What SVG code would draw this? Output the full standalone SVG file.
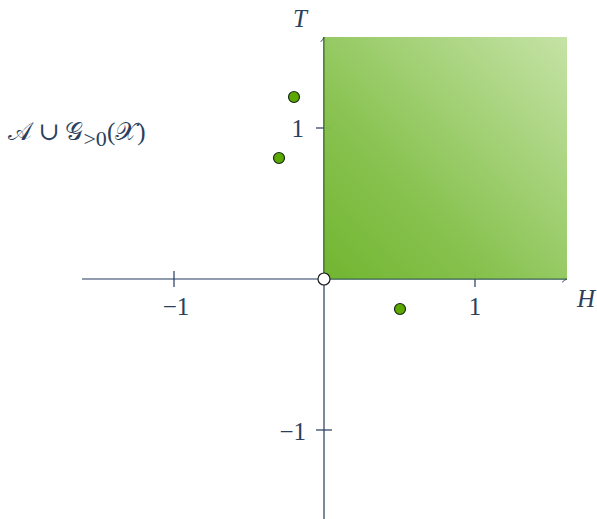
<svg xmlns="http://www.w3.org/2000/svg" width="597" height="519" viewBox="0 0 597 519">
<defs>
<linearGradient id="g" x1="0" y1="1" x2="1" y2="0">
<stop offset="0" stop-color="#6db32a"/>
<stop offset="0.35" stop-color="#84c04a"/>
<stop offset="1" stop-color="#c3e2a3"/>
</linearGradient>
<marker id="ar" viewBox="0 0 10 10" refX="8" refY="5" markerWidth="8" markerHeight="8" markerUnits="userSpaceOnUse" orient="auto">
<path d="M2,1 Q5,4 8,5 Q5,6 2,9" fill="none" stroke="#243a5e" stroke-width="1.2"/>
</marker>
<style>
.ax{stroke:#243a5e;stroke-width:1.2;fill:none}
.t{font-family:"Liberation Serif","DejaVu Serif",serif;fill:#2b3f5c;font-size:25px}
.i{font-style:italic}
.pt{fill:#5aa800;stroke:#1a2a1a;stroke-width:1.2}
</style>
</defs>
<g id="connectors">
<line class="ax" x1="82" y1="279" x2="567" y2="279" marker-end="url(#ar)"/>
<line class="ax" x1="324" y1="519" x2="324" y2="37" marker-end="url(#ar)"/>
<line class="ax" x1="174" y1="271" x2="174" y2="287"/>
<line class="ax" x1="475" y1="271" x2="475" y2="287"/>
<line class="ax" x1="316" y1="128" x2="332" y2="128"/>
<line class="ax" x1="316" y1="430" x2="332" y2="430"/>
</g>
<g id="region">
<rect x="324" y="37" width="243" height="242" fill="url(#g)" opacity="0.97"/>
<line x1="324" y1="37" x2="324" y2="279" stroke="#3f6a30" stroke-width="1"/>
<line x1="324" y1="279" x2="567" y2="279" stroke="#3f6a50" stroke-width="1"/>
</g>
<g id="labels">
<text class="t i" x="300" y="27" text-anchor="middle">T</text>
<text class="t i" x="586" y="307" text-anchor="middle">H</text>
<text class="t" x="304" y="137" text-anchor="end">1</text>
<text class="t" x="306" y="440" text-anchor="end">−1</text>
<text class="t" x="176" y="315" text-anchor="middle">−1</text>
<text class="t" x="475" y="315" text-anchor="middle">1</text>
<text class="t" x="8" y="140" font-size="33">𝒜 ∪ 𝒢<tspan font-size="22" dy="6">&gt;0</tspan><tspan dy="-6">(𝒳)</tspan></text>
</g>
<g id="p1"><circle class="pt" cx="294" cy="97" r="5.5"/></g>
<g id="p2"><circle class="pt" cx="279" cy="158" r="5.5"/></g>
<g id="p3"><circle class="pt" cx="400" cy="309" r="5.5"/></g>
<g id="origin"><circle cx="324" cy="279" r="6" fill="#fff" stroke="#1a1a1a" stroke-width="1.2"/></g>
</svg>
